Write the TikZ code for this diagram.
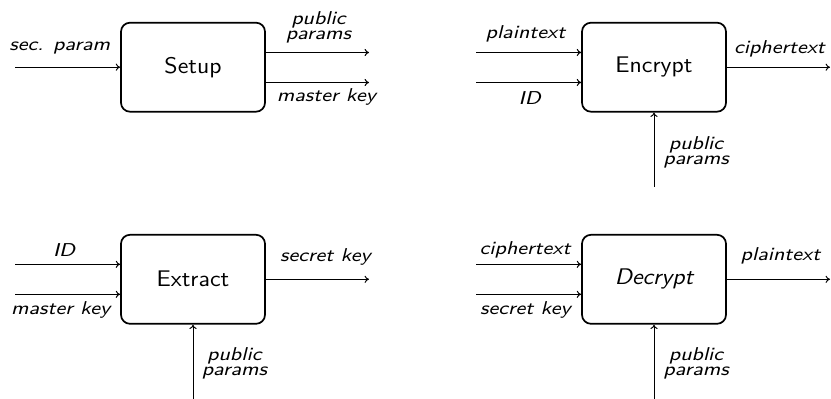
\documentclass[tikz,border=0pt]{standalone}
\usepackage{graphicx}
\usetikzlibrary{arrows.meta}
\begin{document}
\begin{tikzpicture}[x=0.5pt,y=-0.5pt,
  block/.style={draw, line width=0.85pt, rounded corners=4.5pt,
    minimum width=72pt, minimum height=44.5pt, inner sep=0pt,
    font=\fontsize{11.3}{13.6}\selectfont\sffamily},
  arr/.style={line width=0.5pt, -{To[length=2.2pt,width=3.6pt]}},
  lbl/.style={inner sep=0pt, align=center, xscale=1.15,
    font=\fontsize{9.3}{7.5}\selectfont\sffamily\itshape},
]
\useasboundingbox (0,0) rectangle (831,399);

% the four algorithms
\node[block] (setup)   at (193,67.2)  {\scalebox{1.08}[1]{Setup}};
\node[block] (encrypt) at (654,67.2)  {\scalebox{1.08}[1]{Encrypt}};
\node[block] (extract) at (193,279.3) {\scalebox{1.08}[1]{Extract}};
\node[block, font=\fontsize{11.3}{13.6}\selectfont\sffamily\itshape]
             (decrypt) at (654,279.3) {\scalebox{1.08}[1]{Decrypt}};

% free ends of the connectors
\coordinate (s-in) at (15,67.2);
\coordinate (s-o1) at (369,52.5);
\coordinate (s-o2) at (369,82.5);
\coordinate (e-i1) at (476,52.5);
\coordinate (e-i2) at (476,82.5);
\coordinate (e-o)  at (830,67.2);
\coordinate (e-b)  at (654,187);
\coordinate (x-i1) at (15,264.3);
\coordinate (x-i2) at (15,294.3);
\coordinate (x-o)  at (369,279.3);
\coordinate (x-b)  at (193,399);
\coordinate (d-i1) at (476,264.3);
\coordinate (d-i2) at (476,294.3);
\coordinate (d-o)  at (830,279.3);
\coordinate (d-b)  at (654,399);

% Setup
\draw[arr] (s-in) -- (setup.west)
  node[lbl, pos=0.425, anchor=base, yshift=8.2pt] {sec. param};
\draw[arr] (s-o1 -| setup.east) -- (s-o1)
  node[lbl, pos=0.51, anchor=north, yshift=20.75pt] {public\\params};
\draw[arr] (s-o2 -| setup.east) -- (s-o2)
  node[lbl, pos=0.587, anchor=base, yshift=-9.6pt] {master key};

% Encrypt
\draw[arr] (e-i1) -- (e-i1 -| encrypt.west)
  node[lbl, pos=0.47, anchor=base, yshift=7.1pt] {plaintext};
\draw[arr] (e-i2) -- (e-i2 -| encrypt.west)
  node[lbl, pos=0.51, anchor=base, yshift=-10.9pt] {ID};
\draw[arr] (encrypt.east) -- (e-o)
  node[lbl, pos=0.51, anchor=base, yshift=6.6pt] {ciphertext};
\draw[arr] (e-b) -- (encrypt.south)
  node[lbl, pos=0.5, anchor=north, xshift=18.3pt, yshift=6.9pt] {public\\params};

% Extract
\draw[arr] (x-i1) -- (x-i1 -| extract.west)
  node[lbl, pos=0.467, anchor=base, yshift=3.8pt] {ID};
\draw[arr] (x-i2) -- (x-i2 -| extract.west)
  node[lbl, pos=0.434, anchor=base, yshift=-10.35pt] {master key};
\draw[arr] (extract.east) -- (x-o)
  node[lbl, pos=0.577, anchor=base, yshift=8.9pt] {secret key};
\draw[arr] (x-b) -- (extract.south)
  node[lbl, pos=0.5, anchor=north, xshift=18pt, yshift=7.4pt] {public\\params};

% Decrypt
\draw[arr] (d-i1) -- (d-i1 -| decrypt.west)
  node[lbl, pos=0.467, anchor=base, yshift=4.65pt] {ciphertext};
\draw[arr] (d-i2) -- (d-i2 -| decrypt.west)
  node[lbl, pos=0.47, anchor=base, yshift=-10pt] {secret key};
\draw[arr] (decrypt.east) -- (d-o)
  node[lbl, pos=0.52, anchor=base, yshift=9.3pt] {plaintext};
\draw[arr] (d-b) -- (decrypt.south)
  node[lbl, pos=0.5, anchor=north, xshift=18.3pt, yshift=7.4pt] {public\\params};
\end{tikzpicture}
\end{document}
